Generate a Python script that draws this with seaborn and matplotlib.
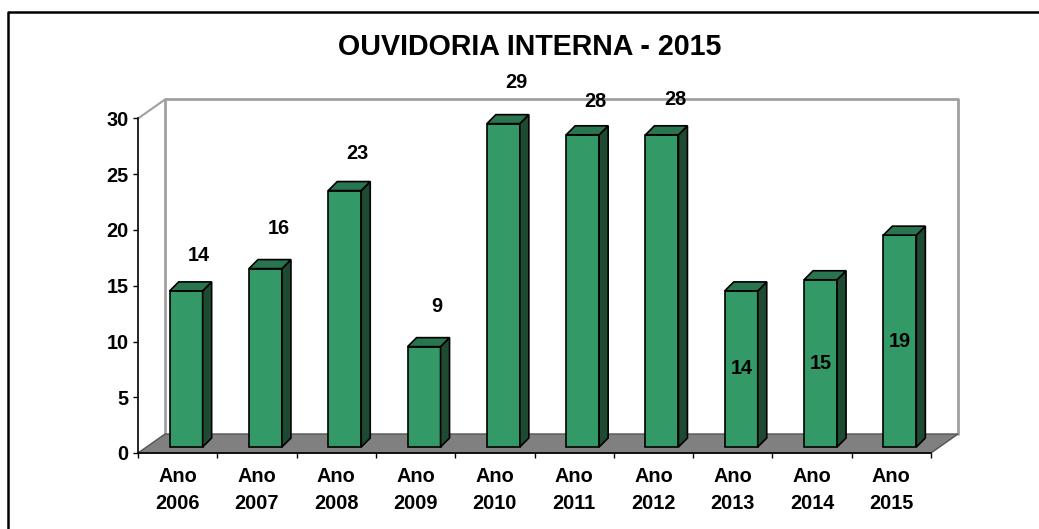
import matplotlib
matplotlib.use("Agg")
import matplotlib.pyplot as plt
import seaborn as sns
import pandas as pd
import numpy as np
from matplotlib.patches import Polygon
from matplotlib.transforms import ScaledTranslation
from matplotlib.lines import Line2D

# ---- data ----
categories = ["Ano\n2006", "Ano\n2007", "Ano\n2008", "Ano\n2009", "Ano\n2010",
              "Ano\n2011", "Ano\n2012", "Ano\n2013", "Ano\n2014", "Ano\n2015"]
values = [14, 16, 23, 9, 29, 28, 28, 14, 15, 19]
title = "OUVIDORIA INTERNA - 2015"
yticks = [0, 5, 10, 15, 20, 25, 30]

# ---- styling ----
label_inside = [False] * 7 + [True] * 3
label_lift = [3.2, 3.6, 3.3, 3.6, 3.7, 3.0, 3.2, 0, 0, 0]   # data units above bar top
FRONT = "#339966"
SIDE = "#1E4A32"
TOP = "#297550"
FLOOR = "#808080"
WALL = "#A0A0A0"
FS = 14.3

sns.set_theme(style="white")
plt.rcParams['font.family'] = ['Liberation Sans', 'DejaVu Sans']
plt.rcParams['font.weight'] = 'bold'

W, H = 1039, 529
fig = plt.figure(figsize=(W / 100, H / 100), dpi=100)
fig.patch.set_facecolor("white")
ax_l, ax_r, ax_b, ax_t = 138, 931, 453, 118.5
ax = fig.add_axes([ax_l / W, 1 - ax_b / H, (ax_r - ax_l) / W, (ax_b - ax_t) / H])
ax.set_facecolor("none")

df = pd.DataFrame({"cat": categories, "val": values})
sns.barplot(data=df, x="cat", y="val", ax=ax, color=FRONT, saturation=1,
            width=0.416, edgecolor="black", linewidth=1.2, zorder=4)
bars = list(ax.patches)
ax.set_xlim(-0.5, len(categories) - 0.5)
ax.set_ylim(0, 30)

sx = (ax_r - ax_l) / len(categories)   # px per category
sy = (ax_b - ax_t) / 30.0              # px per unit

# bars sit partway into the floor depth
bar_off = ScaledTranslation(8.5 / 100, 6 / 100, fig.dpi_scale_trans)
tr_bar = ax.transData + bar_off
bdx, bdy = 9 / sx, 9 / sy

for p in bars:
    p.set_transform(tr_bar)
    p.set_clip_on(False)
    x0, w, h = p.get_x(), p.get_width(), p.get_height()
    side = Polygon([(x0 + w, 0), (x0 + w + bdx, bdy), (x0 + w + bdx, h + bdy), (x0 + w, h)],
                   closed=True, facecolor=SIDE, edgecolor="black", lw=1.2,
                   transform=tr_bar, clip_on=False, zorder=4)
    top = Polygon([(x0, h), (x0 + bdx, h + bdy), (x0 + w + bdx, h + bdy), (x0 + w, h)],
                  closed=True, facecolor=TOP, edgecolor="black", lw=1.2,
                  transform=tr_bar, clip_on=False, zorder=4)
    ax.add_patch(side)
    ax.add_patch(top)

# floor and back wall
fdx, fdy = 27 / sx, 19 / sy
x_lo, x_hi = -0.5, len(categories) - 0.5
floor = Polygon([(x_lo, 0), (x_hi, 0), (x_hi + fdx, fdy), (x_lo + fdx, fdy)], closed=True,
                facecolor=FLOOR, edgecolor="#555555", lw=1, transform=ax.transData,
                clip_on=False, zorder=2)
ax.add_patch(floor)
ax.add_line(Line2D([x_lo + fdx, x_lo + fdx, x_hi + fdx, x_hi + fdx],
                   [fdy, 30 + fdy, 30 + fdy, fdy], color=WALL, lw=2,
                   clip_on=False, zorder=1))
ax.add_line(Line2D([x_lo, x_lo + fdx], [30, 30 + fdy], color=WALL, lw=1.5,
                   clip_on=False, zorder=1))

# value labels
tr_lab = ax.transData + ScaledTranslation((8.5 + 13) / 100, 6 / 100, fig.dpi_scale_trans)
for p, v, inside, lift in zip(bars, values, label_inside, label_lift):
    cx = p.get_x() + p.get_width() / 2
    if inside:
        ax.text(cx, v / 2, str(v), transform=tr_bar, ha="center", va="center",
                fontsize=FS, fontweight="bold", color="black", zorder=6)
    else:
        ax.text(cx, v + lift, str(v), transform=tr_lab, ha="center", va="center",
                fontsize=FS, fontweight="bold", color="black", zorder=6, clip_on=False)

# axes styling
for s in ["top", "right"]:
    ax.spines[s].set_visible(False)
for s in ["left", "bottom"]:
    ax.spines[s].set_visible(True)
    ax.spines[s].set_color("black")
    ax.spines[s].set_linewidth(1.2)
    ax.spines[s].set_zorder(5)

ax.set_yticks(yticks)
ax.set_yticklabels([str(t) for t in yticks])
ax.set_xticks(range(len(categories)))
ax.set_xticklabels(categories, linespacing=1.55)
ax.set_xticks(np.arange(-0.5, len(categories), 1.0), minor=True)
ax.tick_params(axis="y", which="major", left=True, direction="out", length=3.6,
               width=1, color="black", pad=3, labelsize=FS, labelcolor="black")
ax.tick_params(axis="x", which="major", bottom=True, length=0, pad=10.2,
               labelsize=FS, labelcolor="black")
ax.tick_params(axis="x", which="minor", bottom=True, direction="out", length=3.6,
               width=1, color="black")
for lab in ax.get_xticklabels() + ax.get_yticklabels():
    lab.set_fontweight("bold")
ax.set_xlabel("")
ax.set_ylabel("")
ax.grid(False)

fig.text(530 / W, 1 - 47 / H, title, ha="center", va="center",
         fontsize=20.6, fontweight="bold", color="black")

# outer chart border (left and top visible)
fig.add_artist(Line2D([8 / W, 8 / W, 1.0], [0.0, 1 - 12 / H, 1 - 12 / H],
                      transform=fig.transFigure, color="black", lw=1.8))

fig.savefig("out.png", dpi=100, facecolor="white")
